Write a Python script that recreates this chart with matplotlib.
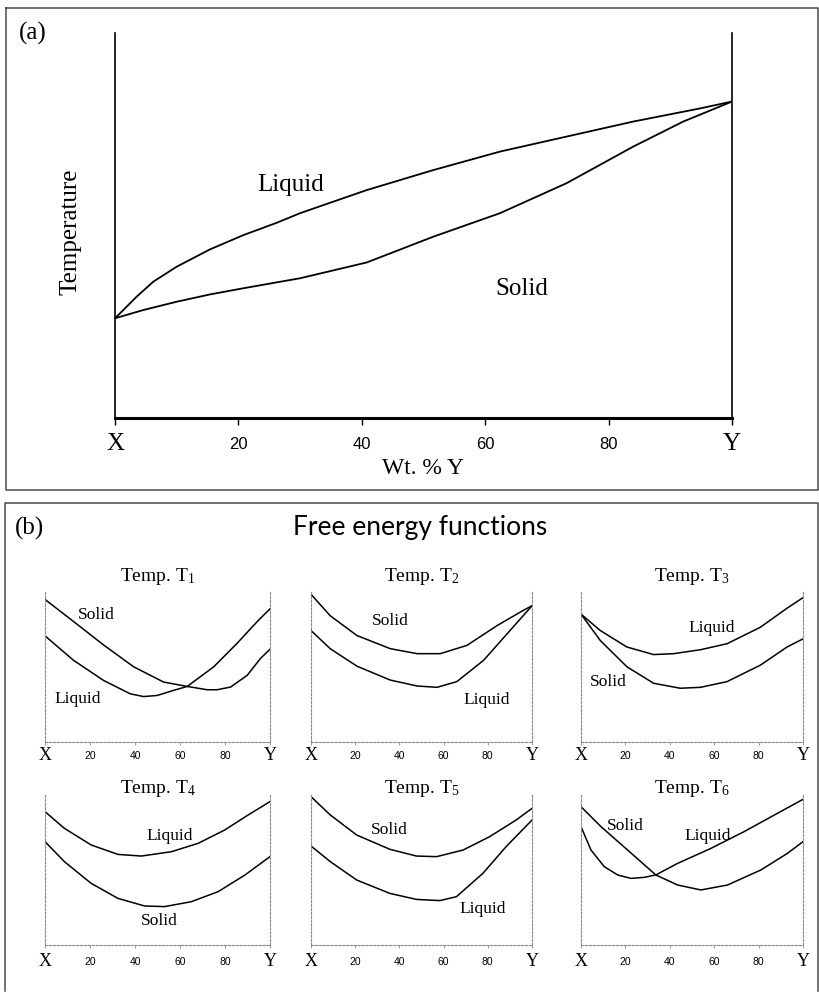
import matplotlib
matplotlib.use('Agg')
from matplotlib import pyplot as plt
from matplotlib.lines import Line2D

plt.rcParams['font.family'] = ['Liberation Serif', 'DejaVu Serif']
plt.rcParams['mathtext.fontset'] = 'custom'
plt.rcParams['mathtext.rm'] = 'Liberation Serif'
plt.rcParams['mathtext.it'] = 'Liberation Serif:italic'

W, H = 820, 992

# (a) phase diagram: liquidus and solidus, x = wt. % Y, T in arbitrary units
liq_x = [0, 1.35, 3.5, 6.2, 10, 15.4, 20.8, 26.2, 30, 40.8, 51.6, 62.4, 73.2, 84, 94.8, 100]
liq_t = [25.9, 28.05, 31.5, 35.4, 39.3, 43.8, 47.5, 50.7, 53.2, 59.2, 64.4, 69.2, 73.1, 77, 80.4, 82.2]
sol_x = [0, 4.6, 10, 15.4, 20.8, 30, 40.8, 51.6, 62.4, 73.2, 84, 92.1, 100]
sol_t = [25.9, 28.05, 30.2, 32.1, 33.7, 36.3, 40.4, 47.1, 53.2, 61, 70.5, 77, 82.2]

tick_pos = [0, 20, 40, 60, 80, 100]
tick_lab = ['X', '20', '40', '60', '80', 'Y']

# (b) free energy curves at six temperatures
t1_sol_x = [0, 12.6, 26, 39.4, 52.7, 63.2, 72.1, 76.5, 82.5, 89.9, 95.8, 100]
t1_sol_g = [94.4, 79.9, 64.3, 49.8, 39.7, 36.8, 34.6, 34.6, 36.4, 44.2, 55.4, 61.4]
t1_liq_x = [0, 12.6, 26, 37.9, 43.8, 49.8, 57.2, 63.2, 75, 85.4, 94.4, 100]
t1_liq_g = [70.3, 54.2, 40.8, 31.9, 30.1, 30.8, 34.2, 36.8, 49.8, 65.4, 79.9, 88.2]

t2_sol_x = [0, 8.7, 20.8, 35.9, 48, 58.5, 70.6, 84.2, 96.2, 100]
t2_sol_g = [97.8, 83.6, 70.5, 61.8, 58.5, 58.5, 64, 77.1, 87.3, 90.2]
t2_liq_x = [0, 8.7, 20.8, 35.9, 48, 57, 66, 78.1, 88.7, 100]
t2_liq_g = [73.8, 61.8, 50.2, 41, 37.1, 36.2, 40, 54.1, 71.6, 90.2]

t3_liq_x = [0, 8.7, 20.7, 32.7, 41.7, 53.8, 65.8, 80.8, 92.8, 100]
t3_liq_g = [84.7, 73.8, 62.9, 57.9, 58.5, 61.1, 65.1, 76, 88.6, 95.6]
t3_sol_x = [0, 8.7, 20.7, 32.7, 44.7, 53.8, 65.8, 80.8, 92.8, 100]
t3_sol_g = [84.7, 67.2, 49.8, 38.9, 35.6, 36.2, 40, 50.9, 62.9, 68.3]

t4_liq_x = [0, 8.6, 20.5, 32.4, 42.8, 56.2, 68.1, 79.9, 90.3, 100]
t4_liq_g = [88.9, 77.8, 66.7, 60.4, 59.3, 62.2, 67.8, 76.7, 86.7, 95.6]
t4_sol_x = [0, 8.6, 20.5, 32.4, 44.3, 53.2, 65.1, 77, 88.9, 100]
t4_sol_g = [68.9, 55.6, 41.1, 31.1, 26, 25.6, 28.9, 35.6, 46.7, 58.9]

t5_sol_x = [0, 8.7, 20.7, 35.7, 47.7, 56.8, 68.8, 80.8, 92.8, 100]
t5_sol_g = [98.9, 86.7, 73.3, 63.8, 59.3, 58.9, 63.3, 72.2, 83.3, 91.1]
t5_liq_x = [0, 8.7, 20.7, 35.7, 47.7, 58.3, 65.8, 77.8, 88.3, 100]
t5_liq_g = [66, 55.6, 43.3, 34.4, 30.4, 29.6, 32.2, 47.8, 65.6, 83.3]

t6_sol_x = [0, 9, 21, 33.7, 43.5, 54, 66, 81, 93, 100]
t6_sol_g = [92.2, 78.9, 63.3, 46.7, 40, 36.7, 40, 50, 61.1, 68.9]
t6_liq_x = [0, 4.5, 10.5, 16.5, 22.5, 28.5, 33.7, 43.5, 58.5, 73.5, 88.5, 100]
t6_liq_g = [78.9, 63.3, 52.2, 46.7, 44.4, 45.1, 46.7, 54.4, 64.4, 75.6, 87.8, 97.1]

temps = ['1', '2', '3', '4', '5', '6']
curves = [
    (t1_sol_x, t1_sol_g, t1_liq_x, t1_liq_g),
    (t2_sol_x, t2_sol_g, t2_liq_x, t2_liq_g),
    (t3_sol_x, t3_sol_g, t3_liq_x, t3_liq_g),
    (t4_sol_x, t4_sol_g, t4_liq_x, t4_liq_g),
    (t5_sol_x, t5_sol_g, t5_liq_x, t5_liq_g),
    (t6_sol_x, t6_sol_g, t6_liq_x, t6_liq_g),
]
# label spots (axes data coords): solid, liquid
label_xy = [
    ((23, 84), (14.7, 28.7)),
    ((35.7, 80), (79.5, 28)),
    ((12.2, 40), (58.9, 75.5)),
    ((50.9, 16), (55.4, 73)),
    ((35.3, 77), (77.8, 24.3)),
    ((19.8, 79), (57, 72.4)),
]

fig = plt.figure(figsize=(W / 100, H / 100), dpi=100)


def box(x0, y0, x1, y1):
    # pixel rect -> figure fraction
    return [x0 / W, 1 - y1 / H, (x1 - x0) / W, (y1 - y0) / H]


def ftext(px, py, s, **kw):
    fig.text(px / W, 1 - py / H, s, ha='center', va='center', **kw)


# panel frames
fc = '#4a4a4a'
for xs, ys in [([6, 818, 818, 6, 6], [8, 8, 490, 490, 8]),
               ([5, 5, 818, 818], [991, 503, 503, 991])]:
    fig.add_artist(Line2D([x / W for x in xs], [1 - y / H for y in ys],
                          color=fc, lw=1.1))

# ---- (a)
ax = fig.add_axes(box(115, 33, 732, 418))
ax.plot(liq_x, liq_t, color='black', lw=1.3)
ax.plot(sol_x, sol_t, color='black', lw=1.3)
ax.set_xlim(0, 100)
ax.set_ylim(0, 100)
ax.spines['top'].set_visible(False)
for s in ['left', 'right']:
    ax.spines[s].set_linewidth(1.2)
ax.spines['bottom'].set_linewidth(2.2)
ax.set_yticks([])
ax.set_xticks(tick_pos, tick_lab)
ax.tick_params(axis='x', length=5, width=1, pad=14)
for lab in ax.get_xticklabels():
    lab.set_verticalalignment('center')
    if lab.get_text() in ('X', 'Y'):
        lab.set_fontsize(18)
    else:
        lab.set_fontfamily('Liberation Sans')
        lab.set_fontsize(12)
ax.text(28.5, 60.5, 'Liquid', fontsize=18, ha='center', va='center')
ax.text(66, 33.5, 'Solid', fontsize=18, ha='center', va='center')
ftext(423, 469, 'Wt. % Y', fontsize=17)
ftext(71, 232, 'Temperature', fontsize=18, rotation=90)
ftext(33, 33, '(a)', fontsize=18)

# ---- (b)
ftext(30, 528, '(b)', fontsize=18)
ftext(420, 527, 'Free energy functions', fontsize=19, family='Lato')

cols = [(45, 270), (311, 532), (581, 803)]
rows = [(591, 742), (795, 945)]
title_off = [1.093, 1.045]
gray = '#8a8a8a'
for i, (sx, sy, lx, ly) in enumerate(curves):
    r, c = divmod(i, 3)
    x0, x1 = cols[c]
    y0, y1 = rows[r]
    a = fig.add_axes(box(x0, y0, x1, y1))
    a.plot(sx, sy, color='black', lw=1.1)
    a.plot(lx, ly, color='black', lw=1.1)
    a.set_xlim(0, 100)
    a.set_ylim(0, 100)
    a.spines['top'].set_visible(False)
    for s in ['left', 'right', 'bottom']:
        a.spines[s].set_color(gray)
        a.spines[s].set_linewidth(0.8)
        a.spines[s].set_linestyle((0, (2, 1.5)))
    a.set_yticks([])
    a.set_xticks(tick_pos, tick_lab)
    a.tick_params(axis='x', length=2, width=0.6, color=gray, pad=8 if r == 0 else 10)
    for lab in a.get_xticklabels():
        lab.set_verticalalignment('center')
        if lab.get_text() in ('X', 'Y'):
            lab.set_fontsize(13)
        else:
            lab.set_fontfamily('Liberation Sans')
            lab.set_fontsize(7.5)
    a.text(0.5, title_off[r], 'Temp. T$_{' + temps[i] + '}$', transform=a.transAxes,
           fontsize=14, ha='center', va='center')
    (sxl, syl), (lxl, lyl) = label_xy[i]
    a.text(sxl, syl, 'Solid', fontsize=12.5, ha='center', va='center')
    a.text(lxl, lyl, 'Liquid', fontsize=12.5, ha='center', va='center')

fig.savefig('out.png', dpi=100)
